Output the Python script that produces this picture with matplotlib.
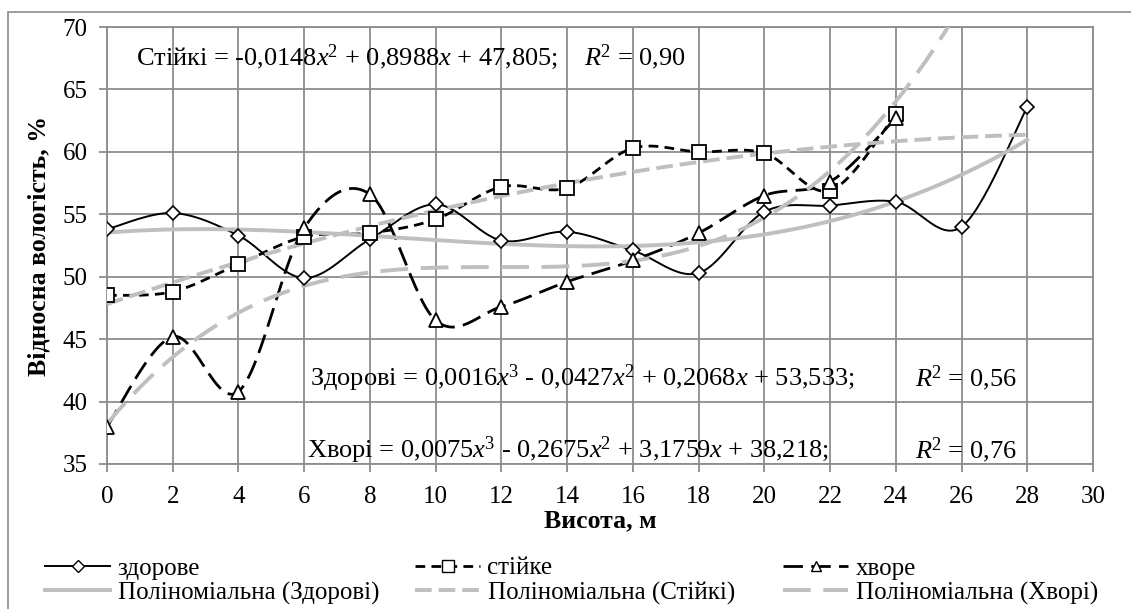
import numpy as np
import matplotlib.pyplot as plt
from matplotlib.patches import Rectangle
from matplotlib.lines import Line2D
from matplotlib.font_manager import FontProperties

FONT = 'Liberation Serif'
plt.rcParams['font.family'] = [FONT, 'DejaVu Serif']
plt.rcParams['lines.scale_dashes'] = False
plt.rcParams['mathtext.fontset'] = 'custom'
plt.rcParams['mathtext.it'] = FONT + ':italic'
plt.rcParams['mathtext.rm'] = FONT

# дані
x_zdorove = [0, 2, 4, 6, 8, 10, 12, 14, 16, 18, 20, 22, 24, 26, 28]
zdorove = [53.8, 55.1, 53.3, 49.9, 53.0, 55.8, 52.9, 53.6, 52.1, 50.3, 55.2, 55.7, 56.0, 54.0, 63.6]

x_stiike = [0, 2, 4, 6, 8, 10, 12, 14, 16, 18, 20, 22, 24]
stiike = [48.5, 48.8, 51.0, 53.2, 53.5, 54.6, 57.2, 57.1, 60.3, 60.0, 59.9, 56.9, 63.0]

x_khvore = [0, 2, 4, 6, 8, 10, 12, 14, 16, 18, 20, 22, 24]
khvore = [38.0, 45.2, 40.8, 53.9, 56.6, 46.5, 47.6, 49.6, 51.3, 53.5, 56.5, 57.6, 62.7]

# коефіцієнти ліній тренду (від старшого степеня)
coef_zdorovi = [0.0016, -0.0427, 0.2068, 53.533]
coef_stiiki = [-0.0148, 0.8988, 47.805]
coef_khvori = [0.0075, -0.2675, 3.1759, 38.218]
trend_x_max = 28

x_ticks = list(range(0, 31, 2))
y_ticks = list(range(35, 71, 5))


def smooth(xs, ys, n=30):
    # згладжування як в Excel (кубічні Без'є, Catmull-Rom)
    p = np.column_stack([xs, ys]).astype(float)
    out = [p[0]]
    for i in range(len(p) - 1):
        p0 = p[i - 1] if i > 0 else p[i]
        p1, p2 = p[i], p[i + 1]
        p3 = p[i + 2] if i + 2 < len(p) else p[i + 1]
        c1 = p1 + (p2 - p0) / 6
        c2 = p2 - (p3 - p1) / 6
        t = np.linspace(0, 1, n)[1:, None]
        seg = ((1 - t) ** 3) * p1 + 3 * ((1 - t) ** 2) * t * c1 + 3 * (1 - t) * t ** 2 * c2 + t ** 3 * p2
        out.extend(seg)
    out = np.array(out)
    return out[:, 0], out[:, 1]


W, H = 1131, 609
fig = plt.figure(figsize=(W / 100, H / 100), dpi=100)
ax = fig.add_axes([107 / W, 1 - 464 / H, (1093 - 107) / W, (464 - 27) / H])

fig.patches.append(Rectangle((8 / W, -0.1), 1.2, 1 - 12 / H + 0.1, transform=fig.transFigure,
                             fill=False, edgecolor='#8c8c8c', lw=1.2, zorder=0))

grid_c = '#8c8c8c'
ax.set_xlim(0, 30)
ax.set_ylim(35, 70)
ax.set_xticks(x_ticks)
ax.set_yticks(y_ticks)
ax.grid(True, color=grid_c, lw=1.3)
ax.set_axisbelow(True)
for s in ax.spines.values():
    s.set_color(grid_c)
    s.set_linewidth(1.3)
ax.tick_params(colors=grid_c, width=1.3, length=6, labelsize=18, labelcolor='black')
ax.tick_params(axis='x', pad=10)
ax.tick_params(axis='y', pad=8)

# дані з маркерами
sx, sy = smooth(x_zdorove, zdorove)
ax.plot(sx, sy, color='black', lw=1.4, zorder=3)
ax.plot(x_zdorove, zdorove, ls='none', marker='D', ms=7, mfc='white', mec='black', mew=1.2, zorder=5)

sx, sy = smooth(x_stiike, stiike)
ax.plot(sx, sy, color='black', lw=2.0, dashes=(7, 4.5), zorder=3)
ax.plot(x_stiike, stiike, ls='none', marker='s', ms=9.5, mfc='white', mec='black', mew=1.3, zorder=5)

sx, sy = smooth(x_khvore, khvore)
ax.plot(sx, sy, color='black', lw=2.0, dashes=(14, 6), zorder=3)
ax.plot(x_khvore, khvore, ls='none', marker='^', ms=10, mfc='white', mec='black', mew=1.3, zorder=5)

# лінії тренду
tx = np.linspace(0, trend_x_max, 300)
trend_c = '#bfbfbf'
ax.plot(tx, np.polyval(coef_zdorovi, tx), color=trend_c, lw=2.8, zorder=4)
ax.plot(tx, np.polyval(coef_stiiki, tx), color=trend_c, lw=2.8, dashes=(12, 5), zorder=4)
ax.plot(tx, np.polyval(coef_khvori, tx), color=trend_c, lw=2.8, dashes=(20, 9), zorder=4)

# рівняння
fs_eq = 19
eqs = [
    (136, 57, r'Стійкі = -0,0148$x$$^2$ + 0,8988$x$ + 47,805;    $R$$^2$ = 0,90'),
    (310, 378, r'Здорові = 0,0016$x$$^3$ - 0,0427$x$$^2$ + 0,2068$x$ + 53,533;'),
    (915, 378, r'$R$$^2$ = 0,56'),
    (307, 450, r'Хворі = 0,0075$x$$^3$ - 0,2675$x$$^2$ + 3,1759$x$ + 38,218;'),
    (915, 450, r'$R$$^2$ = 0,76'),
]
for px, py, s in eqs:
    fig.text(px / W, 1 - py / H, s, fontsize=fs_eq, va='center', ha='left', zorder=6)

ax.set_xlabel('Висота, м', fontsize=18.5, fontweight='bold', labelpad=1)
ax.set_ylabel('Відносна вологість, %', fontsize=18.5, fontweight='bold', labelpad=9)

# легенда: три колонки
cols = [
    (45, [Line2D([], [], color='black', lw=1.4, marker='D', ms=6, mfc='white', mec='black'),
          Line2D([], [], color=trend_c, lw=2.8)],
     ['здорове', 'Поліноміальна (Здорові)']),
    (415, [Line2D([], [], color='black', lw=2.0, dashes=(7, 4.5), marker='s', ms=8, mfc='white', mec='black'),
           Line2D([], [], color=trend_c, lw=2.8, dashes=(12, 5))],
     ['стійке', 'Поліноміальна (Стійкі)']),
    (783, [Line2D([], [], color='black', lw=2.0, dashes=(14, 6), marker='^', ms=7, mfc='white', mec='black'),
           Line2D([], [], color=trend_c, lw=2.8, dashes=(20, 9))],
     ['хворе', 'Поліноміальна (Хворі)']),
]
for x0, handles, labels in cols:
    fig.legend(handles, labels, loc='upper left', bbox_to_anchor=(x0 / W, 1 - 557 / H),
               frameon=False, prop=FontProperties(size=18), handlelength=2.6,
               handletextpad=0.3, borderpad=0, borderaxespad=0, labelspacing=0.08)

fig.savefig('out.png', dpi=100)
